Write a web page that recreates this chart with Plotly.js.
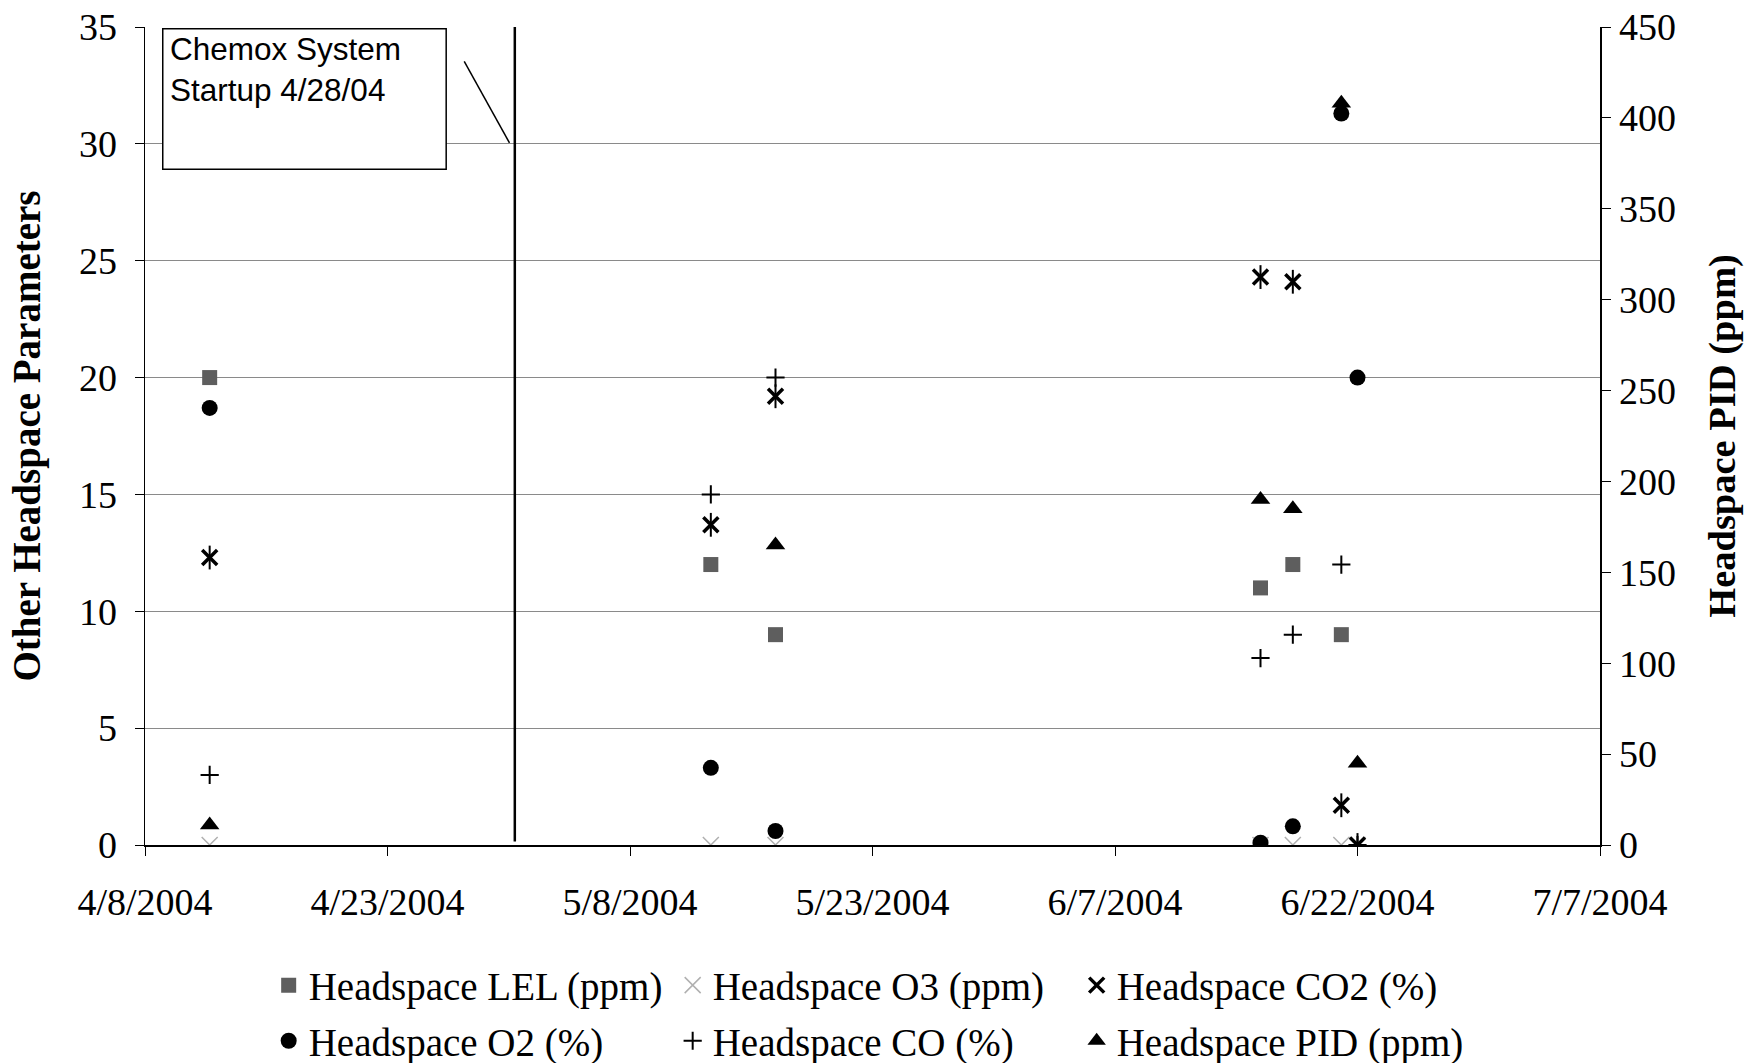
<!DOCTYPE html>
<html>
<head>
<meta charset="utf-8">
<script src="https://cdn.plot.ly/plotly-3.0.1.min.js"></script>
<style>html,body{margin:0;padding:0;background:#fff;}#chart{width:1745px;height:1063px;}</style>
</head>
<body>
<div id="chart"></div>
<script>
// ---- data ----
const sampleDates = ['2004-04-12','2004-05-13','2004-05-17','2004-06-16','2004-06-18','2004-06-21','2004-06-22'];
const lelPpm  = [20, 12, 9, 11, 12, 9, null];
const o3Ppm   = [0, 0, 0, 0, 0, 0, 0];
const co2Pct  = [12.3, 13.7, 19.2, 24.3, 24.1, 1.7, 0];
const o2Pct   = [18.7, 3.3, 0.6, 0.1, 0.8, 31.3, 20];
const coPct   = [3, 15, 20, 8, 9, 12, 0];
const pidPpm  = [11, null, 165, 190, 185, 408, 45];
const seriesNames = ['Headspace LEL (ppm)','Headspace O3 (ppm)','Headspace CO2 (%)','Headspace O2 (%)','Headspace CO (%)','Headspace PID (ppm)'];
const startupDate = '2004-04-30 21:00';
const startupLabel = 'Chemox System<br>Startup 4/28/04';
const xRange = ['2004-04-08','2004-07-07'];

const serif = 'Liberation Serif, Times New Roman, serif';
const FS = 38;
const LFS = 39;

const traces = [
  {x: sampleDates, y: lelPpm, name: seriesNames[0], mode: 'markers', type: 'scatter', legend: 'legend',
   marker: {symbol: 'square', size: 15, color: '#5e5e5e'}},
  {x: sampleDates, y: o3Ppm, name: seriesNames[1], mode: 'markers', type: 'scatter', legend: 'legend',
   marker: {symbol: 'x-thin-open', size: 16, color: '#b0b0b0', line: {color: '#b0b0b0', width: 1.5}}},
  {x: sampleDates, y: co2Pct, name: seriesNames[2], mode: 'markers', type: 'scatter', legend: 'legend', legendgroup: 'co2',
   marker: {symbol: 'x-thin-open', size: 15, color: '#000', line: {color: '#000', width: 3.5}}},
  {x: sampleDates, y: co2Pct, name: seriesNames[2], mode: 'markers', type: 'scatter', legend: 'legend', legendgroup: 'co2', showlegend: false,
   marker: {symbol: 'line-ns-open', size: 17, color: '#000', line: {color: '#000', width: 2}}},
  {x: sampleDates, y: o2Pct, name: seriesNames[3], mode: 'markers', type: 'scatter', legend: 'legend2',
   marker: {symbol: 'circle', size: 16, color: '#000'}},
  {x: sampleDates, y: coPct, name: seriesNames[4], mode: 'markers', type: 'scatter', legend: 'legend2',
   marker: {symbol: 'cross-thin-open', size: 13, color: '#000', line: {color: '#000', width: 2}}},
  {x: sampleDates, y: pidPpm, name: seriesNames[5], mode: 'markers', type: 'scatter', legend: 'legend2', yaxis: 'y2',
   marker: {symbol: 'triangle-up', size: 17, color: '#000'}}
];

const legendCommon = {orientation: 'h', xanchor: 'left', yanchor: 'middle', x: 0.085,
  font: {family: serif, size: LFS, color: '#000'}, bgcolor: 'rgba(0,0,0,0)',
  entrywidth: 359, entrywidthmode: 'pixels', itemclick: false, itemdoubleclick: false};

const layout = {
  width: 1745, height: 1063,
  margin: {l: 145, r: 145, t: 27, b: 218, autoexpand: false},
  paper_bgcolor: '#fff', plot_bgcolor: '#fff',
  font: {family: serif, size: FS, color: '#000'},
  showlegend: true,
  legend: Object.assign({}, legendCommon, {y: -0.1715}),
  legend2: Object.assign({}, legendCommon, {y: -0.2395}),
  xaxis: {
    type: 'date', range: xRange, tick0: xRange[0], dtick: 15 * 86400000,
    tickformat: '%-m/%-d/%Y', ticks: 'outside', ticklen: 9, tickcolor: '#000', tickwidth: 1,
    showline: true, linecolor: '#000', linewidth: 1.5, showgrid: false, zeroline: false,
    tickfont: {family: serif, size: FS, color: '#000'}, ticklabelstandoff: 14
  },
  yaxis: {
    range: [0, 35], dtick: 5, ticks: 'outside', ticklen: 9, tickcolor: '#000',
    showline: true, linecolor: '#000', linewidth: 1.5, showgrid: true, gridcolor: '#8a8a8a', gridwidth: 1,
    zeroline: false, tickfont: {family: serif, size: FS, color: '#000'}, ticklabelstandoff: 10,
    title: {text: '<b>Other Headspace Parameters</b>', font: {family: serif, size: LFS, color: '#000'}, standoff: 26}
  },
  yaxis2: {
    range: [0, 450], dtick: 50, overlaying: 'y', side: 'right', ticks: 'outside', ticklen: 9, tickcolor: '#000',
    showline: true, linecolor: '#000', linewidth: 1.5, showgrid: false, zeroline: false,
    tickfont: {family: serif, size: FS, color: '#000'}, ticklabelstandoff: 1,
    title: {text: '<b>Headspace PID (ppm)</b>', font: {family: serif, size: FS + 0.5, color: '#000'}, standoff: 33}
  },
  shapes: [
    {type: 'line', xref: 'x', yref: 'y', x0: startupDate, x1: startupDate, y0: 0.15, y1: 35,
     line: {color: '#000', width: 2.5}},
    {type: 'rect', xref: 'paper', yref: 'paper', x0: 0.0122, x1: 0.207, y0: 0.826, y1: 0.998,
     line: {color: '#000', width: 1.5}, fillcolor: '#fff'},
    {type: 'line', xref: 'paper', yref: 'paper', x0: 0.2194, y0: 0.958, x1: 0.2505, y1: 0.8584,
     line: {color: '#000', width: 1.5}}
  ],
  annotations: [
    {xref: 'paper', yref: 'paper', x: 0.0155, y: 0.997, xanchor: 'left', yanchor: 'top', align: 'left',
     text: startupLabel, showarrow: false,
     font: {family: 'Liberation Sans, Arial, sans-serif', size: 31.5, color: '#000'}}
  ]
};

Plotly.newPlot('chart', traces, layout, {displayModeBar: false, staticPlot: true});
</script>
</body>
</html>
